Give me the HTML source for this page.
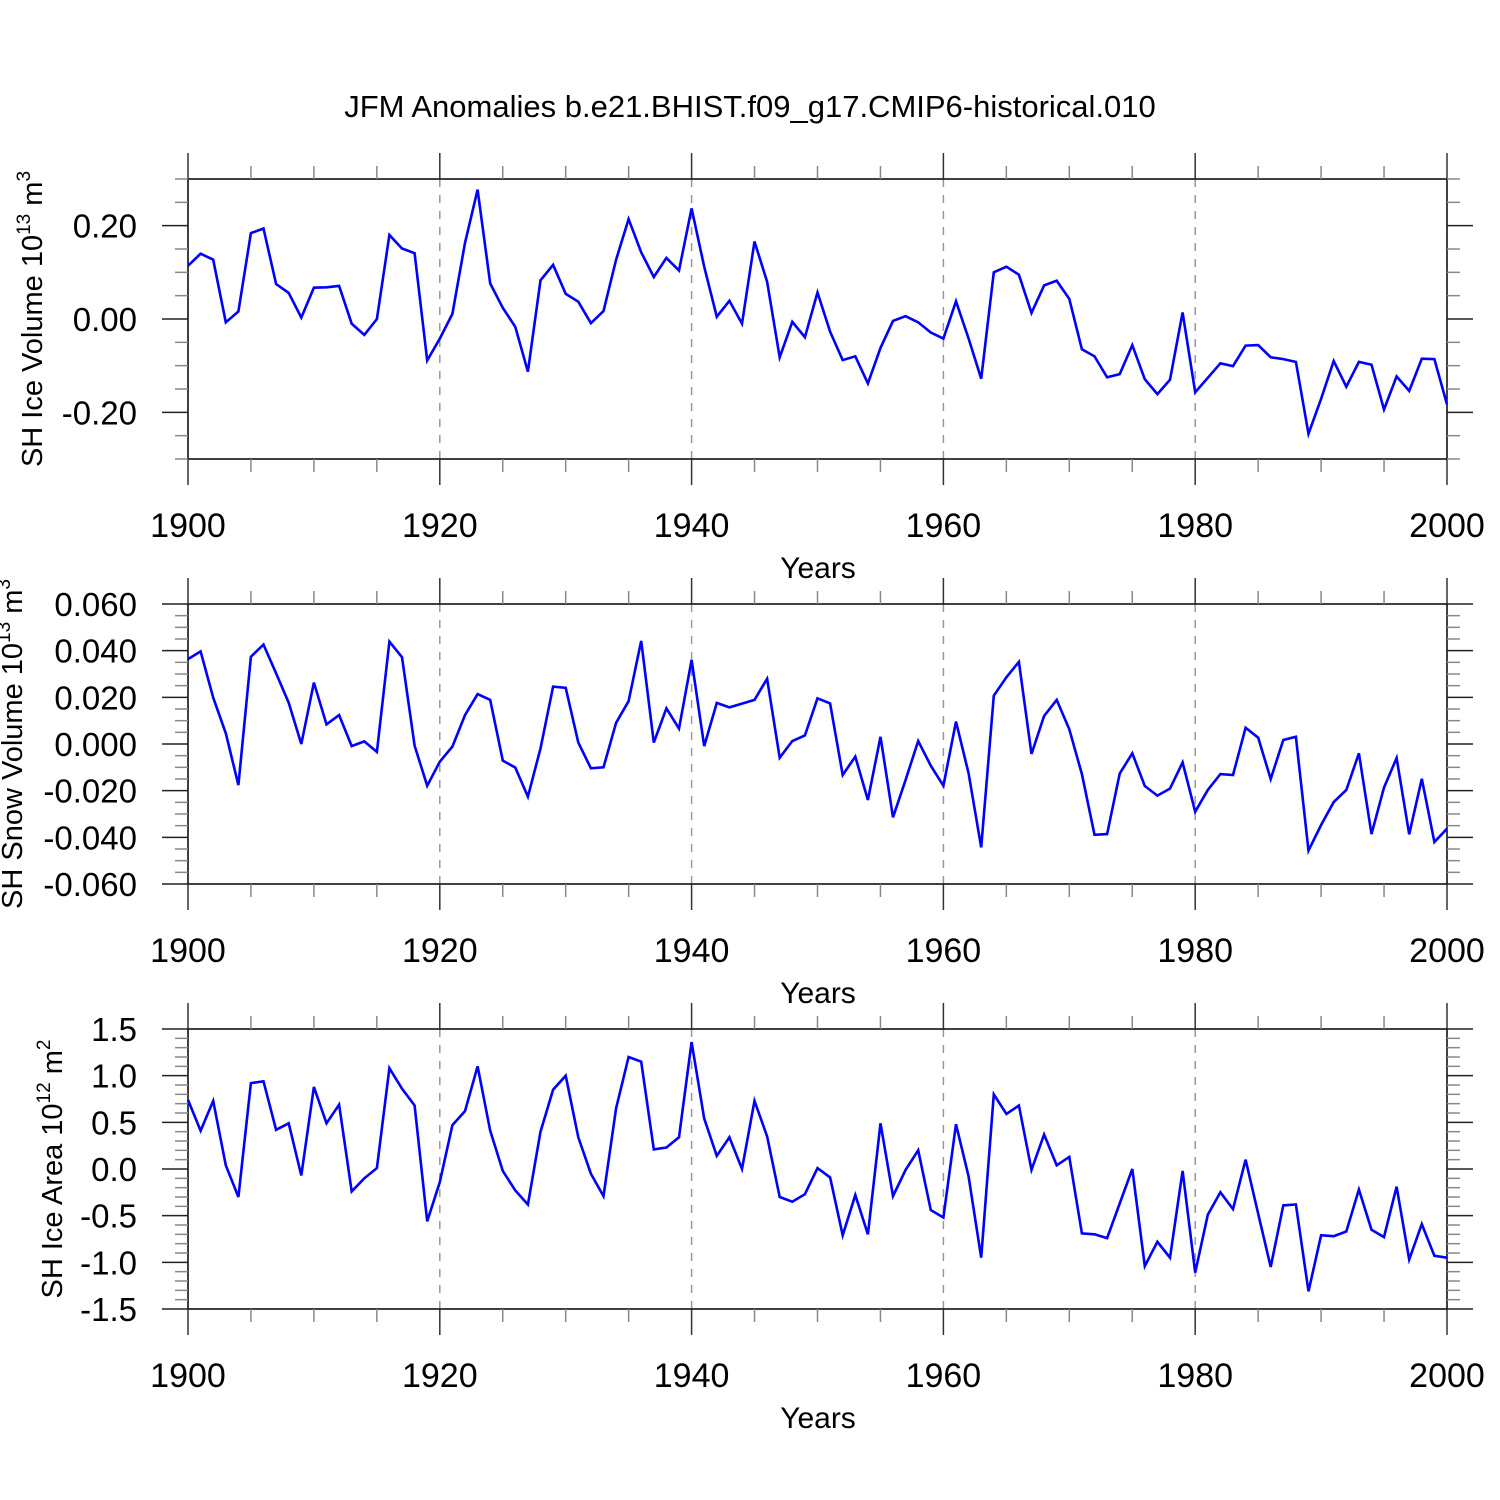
<!DOCTYPE html>
<html><head><meta charset="utf-8"><style>
html,body{margin:0;padding:0;background:#fff;}
svg{display:block;font-family:"Liberation Sans",Arial,sans-serif;}
</style></head><body>
<svg id="chart" width="1500" height="1500" viewBox="0 0 1500 1500" xmlns="http://www.w3.org/2000/svg">
<rect width="1500" height="1500" fill="#fff"/>
<text x="750" y="117" font-size="31" text-anchor="middle">JFM Anomalies b.e21.BHIST.f09_g17.CMIP6-historical.010</text>
</svg>
<script>
const iceVolume = [0.114,0.140,0.127,-0.007,0.016,0.184,0.194,0.075,0.056,0.003,0.067,0.068,0.071,-0.010,-0.034,0.000,0.180,0.151,0.141,-0.089,-0.042,0.011,0.163,0.277,0.076,0.024,-0.017,-0.113,0.083,0.116,0.054,0.037,-0.009,0.017,0.127,0.214,0.143,0.090,0.131,0.104,0.237,0.112,0.005,0.039,-0.010,0.166,0.080,-0.082,-0.006,-0.039,0.057,-0.027,-0.088,-0.080,-0.138,-0.062,-0.004,0.006,-0.007,-0.029,-0.042,0.038,-0.042,-0.128,0.100,0.112,0.095,0.013,0.072,0.082,0.043,-0.065,-0.080,-0.125,-0.118,-0.056,-0.129,-0.161,-0.130,0.014,-0.157,-0.126,-0.095,-0.101,-0.057,-0.056,-0.082,-0.086,-0.092,-0.246,-0.171,-0.090,-0.145,-0.092,-0.098,-0.194,-0.123,-0.154,-0.085,-0.086,-0.183];
const snowVolume = [0.0364,0.0397,0.0199,0.0046,-0.0176,0.0374,0.0426,0.0303,0.0177,0.0000,0.0263,0.0084,0.0124,-0.0009,0.0011,-0.0034,0.0439,0.0372,-0.0007,-0.0179,-0.0076,-0.0011,0.0124,0.0214,0.0189,-0.0071,-0.0101,-0.0226,-0.0019,0.0246,0.0241,0.0006,-0.0104,-0.0100,0.0091,0.0184,0.0442,0.0006,0.0153,0.0066,0.0360,-0.0009,0.0176,0.0157,0.0173,0.0189,0.0280,-0.0059,0.0013,0.0037,0.0196,0.0174,-0.0133,-0.0054,-0.0240,0.0031,-0.0314,-0.0154,0.0013,-0.0093,-0.0179,0.0096,-0.0126,-0.0443,0.0207,0.0286,0.0352,-0.0043,0.0120,0.0189,0.0063,-0.0129,-0.0389,-0.0386,-0.0127,-0.0040,-0.0180,-0.0221,-0.0191,-0.0079,-0.0290,-0.0197,-0.0129,-0.0133,0.0070,0.0027,-0.0150,0.0017,0.0031,-0.0457,-0.0347,-0.0249,-0.0197,-0.0040,-0.0386,-0.0187,-0.0060,-0.0387,-0.0149,-0.0420,-0.0363];
const iceArea = [0.74,0.41,0.73,0.04,-0.30,0.92,0.94,0.42,0.49,-0.07,0.88,0.49,0.69,-0.24,-0.10,0.01,1.08,0.86,0.68,-0.56,-0.14,0.47,0.62,1.10,0.41,-0.02,-0.23,-0.38,0.40,0.85,1.00,0.34,-0.05,-0.29,0.65,1.20,1.15,0.21,0.23,0.34,1.36,0.54,0.14,0.34,0.00,0.73,0.35,-0.30,-0.35,-0.27,0.01,-0.09,-0.71,-0.28,-0.70,0.49,-0.29,-0.01,0.20,-0.44,-0.52,0.48,-0.08,-0.95,0.80,0.59,0.68,-0.01,0.37,0.04,0.13,-0.69,-0.70,-0.74,-0.37,0.00,-1.04,-0.78,-0.95,-0.02,-1.11,-0.49,-0.25,-0.43,0.10,-0.48,-1.05,-0.39,-0.38,-1.31,-0.71,-0.72,-0.67,-0.22,-0.65,-0.73,-0.19,-0.97,-0.59,-0.93,-0.95];
const xTickLabels = ["1900","1920","1940","1960","1980","2000"];
const yTicks1 = ["-0.20","0.00","0.20"];
const yTicks2 = ["-0.060","-0.040","-0.020","0.000","0.020","0.040","0.060"];
const yTicks3 = ["-1.5","-1.0","-0.5","0.0","0.5","1.0","1.5"];

const NS = "http://www.w3.org/2000/svg";
const svg = document.getElementById('chart');
const X0 = 188, X1 = 1447, YEAR0 = 1900, YEAR1 = 2000;
function xScale(yr){ return X0 + (yr - YEAR0) * (X1 - X0) / (YEAR1 - YEAR0); }
function mk(tag, attrs, parent){
  const e = document.createElementNS(NS, tag);
  for (const k in attrs) e.setAttribute(k, attrs[k]);
  (parent || svg).appendChild(e);
  return e;
}

function panel(cfg){
  const g = mk('g', {});
  
  
  const top = cfg.top, bot = cfg.top + 280;
  const yScale = v => bot - (v - cfg.min) * 280 / (cfg.max - cfg.min);
  for (let yr = 1920; yr < 2000; yr += 20) {
    const l = mk('line', {x1: xScale(yr), x2: xScale(yr), y1: top, y2: bot, stroke: '#999', 'stroke-width': 1.5, 'stroke-dasharray': '8,8'}, g);
    
    
  }
  const fr = mk('rect', {x: X0, y: top, width: X1 - X0, height: 280, fill: 'none', stroke: '#000', 'stroke-width': 1.5}, g);
  
  
  for (let yr = 1900; yr <= 2000; yr += 5) {
    const major = yr % 20 === 0;
    const len = major ? 26 : 13;
    const xx = xScale(yr);
    mk('line', {x1: xx, x2: xx, y1: top - len, y2: top, stroke: major ? '#333' : '#888', 'stroke-width': 1.5}, g);
    mk('line', {x1: xx, x2: xx, y1: bot, y2: bot + len, stroke: major ? '#333' : '#888', 'stroke-width': 1.5}, g);
  }
  xTickLabels.forEach(lab => {
    const t = mk('text', {x: xScale(+lab), y: bot + 78, 'font-size': 34, 'text-anchor': 'middle'}, g);
    
    
    t.textContent = lab;
  });
  const xt = mk('text', {x: 818, y: bot + 119, 'font-size': 30, 'text-anchor': 'middle'}, g);
  
  
  xt.textContent = 'Years';
  const nMinor = Math.round((cfg.max - cfg.min) / cfg.minor);
  for (let i = 0; i <= nMinor; i++) {
    const v = cfg.min + i * cfg.minor;
    const isMajor = cfg.labels.some(s => Math.abs(parseFloat(s) - v) < cfg.minor / 10);
    const len = isMajor ? 26 : 13;
    const yy = yScale(v);
    mk('line', {x1: X0 - len, x2: X0, y1: yy, y2: yy, stroke: isMajor ? '#222' : '#888', 'stroke-width': 1.5}, g);
    mk('line', {x1: X1, x2: X1 + len, y1: yy, y2: yy, stroke: isMajor ? '#222' : '#888', 'stroke-width': 1.5}, g);
  }
  cfg.labels.forEach(lab => {
    const t = mk('text', {x: 137, y: yScale(parseFloat(lab)) + 12, 'font-size': 33, 'text-anchor': 'end'}, g);
    
    
    t.textContent = lab;
  });
  const yt = mk('text', {x: cfg.titleX, y: top + 140, 'font-size': 29, 'text-anchor': 'middle', transform: 'rotate(-90 ' + cfg.titleX + ' ' + (top + 140) + ')'}, g);
  
  
  yt.innerHTML = cfg.title + ' 10<tspan dy="-12" font-size="19">' + cfg.exp + '</tspan><tspan dy="12"> m</tspan><tspan dy="-12" font-size="19">' + cfg.mexp + '</tspan>';
  const pts = cfg.data.map((v, i) => xScale(YEAR0 + i).toFixed(1) + ',' + yScale(v).toFixed(1)).join(' ');
  const pl = mk('polyline', {points: pts, fill: 'none', stroke: '#0000ff', 'stroke-width': 2.6, 'stroke-linejoin': 'miter'}, g);
  
  
}

panel({name: 'ice-volume-panel', top: 179, min: -0.3, max: 0.3, minor: 0.05, labels: yTicks1, data: iceVolume, title: 'SH Ice Volume', exp: '13', mexp: '3', titleX: 42});
panel({name: 'snow-volume-panel', top: 604, min: -0.06, max: 0.06, minor: 0.005, labels: yTicks2, data: snowVolume, title: 'SH Snow Volume', exp: '13', mexp: '3', titleX: 22});
panel({name: 'ice-area-panel', top: 1029, min: -1.5, max: 1.5, minor: 0.1, labels: yTicks3, data: iceArea, title: 'SH Ice Area', exp: '12', mexp: '2', titleX: 62});
</script>
</body></html>
